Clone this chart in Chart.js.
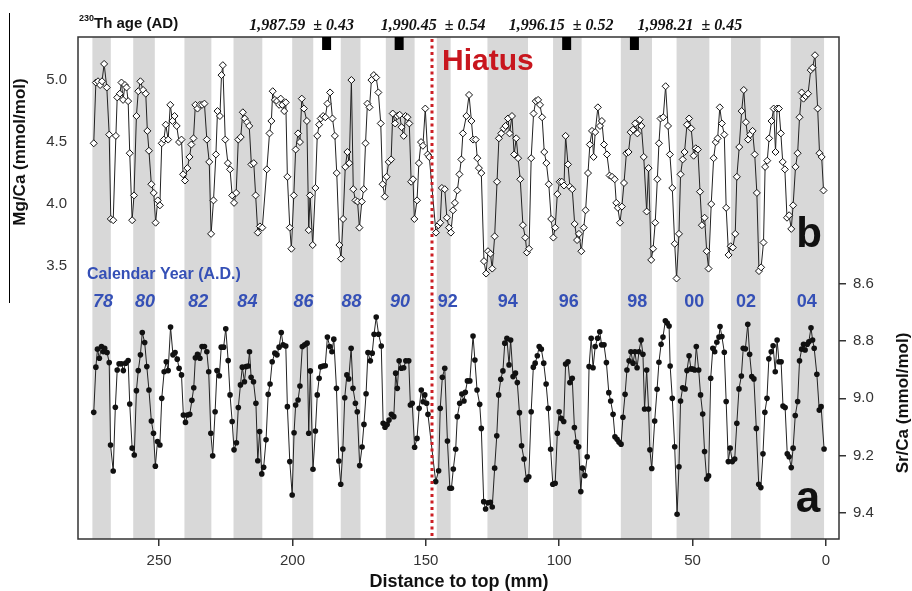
<!DOCTYPE html>
<html>
<head>
<meta charset="utf-8">
<script src="https://cdn.jsdelivr.net/npm/chart.js@4.4.0/dist/chart.umd.min.js"></script>
<style>
  body { margin: 0; background: #fff; }
  canvas { display: block; }
</style>
</head>
<body>
<canvas id="coralChart" width="912" height="591"></canvas>
<script>
// Mg/Ca record (b), depth in mm from top
const mgDepth = [274.5,273.7,272.9,272.1,271.4,270.6,269.6,268.7,268.1,267.2,266.2,265.7,264.7,264.1,263.5,262.8,262.2,261.6,261.0,260.1,
  259.4,258.5,257.8,257.0,256.0,255.0,254.4,253.8,252.9,252.0,251.3,250.5,249.7,249.0,248.2,247.5,246.6,245.8,245.0,244.2,
  243.4,242.5,241.6,241.0,240.3,239.4,238.6,237.9,237.1,236.4,235.6,234.7,233.9,233.0,232.1,231.2,230.5,229.6,228.7,228.1,
  227.2,226.6,226.1,225.2,224.2,223.4,222.6,221.9,221.1,220.3,219.4,218.6,217.9,217.0,216.2,215.4,214.5,213.8,213.0,212.2,
  211.3,209.6,208.6,207.9,207.4,206.6,205.8,205.0,204.4,203.8,203.1,202.5,201.9,201.0,200.4,199.5,198.8,197.9,197.2,196.5,
  195.7,194.6,193.9,193.4,192.4,191.4,190.7,190.0,189.4,188.5,187.7,186.9,185.9,185.0,184.1,183.4,182.4,181.8,181.0,180.2,
  179.4,178.7,177.9,177.2,176.4,175.6,174.9,174.0,173.3,172.6,171.9,171.1,170.4,169.5,168.6,167.8,166.9,166.2,165.4,164.7,
  163.9,163.0,162.4,161.5,160.7,159.8,159.1,158.3,157.6,156.9,156.2,155.5,154.8,154.3,153.3,152.6,151.8,151.1,150.2,149.3,
  148.7,146.2,145.3,144.6,144.0,142.9,142.1,141.3,140.6,139.8,139.1,138.2,137.4,136.7,136.1,134.8,133.8,132.9,132.3,131.3,
  130.7,130.1,129.2,128.2,127.4,126.7,125.8,125.1,124.2,123.3,122.6,121.7,120.8,120.1,119.2,118.6,117.7,116.9,116.1,115.4,
  114.6,113.6,112.7,112.1,111.3,110.5,109.6,108.8,107.9,107.2,106.4,105.6,104.8,103.9,103.0,102.2,101.5,100.7,99.8,99.0,
  98.2,97.6,96.7,96.0,95.1,94.2,93.3,92.6,91.7,90.8,90.1,89.2,88.5,87.7,87.1,86.5,85.5,84.7,84.0,83.2,
  82.1,81.1,80.2,79.2,78.6,78.0,77.2,76.5,75.7,74.8,74.0,73.2,72.3,71.5,70.7,69.8,69.2,68.3,67.2,66.5,
  65.5,64.8,64.0,63.2,62.6,62.0,61.0,60.1,59.2,58.5,57.6,56.7,56.0,55.1,54.5,53.7,53.0,52.1,51.3,50.5,
  49.6,48.8,48.0,47.2,46.5,45.5,44.7,44.0,43.0,42.1,41.3,40.6,39.8,39.0,38.1,37.4,36.5,35.7,34.9,34.0,
  33.4,32.5,31.6,30.8,30.0,29.2,28.4,27.5,26.7,25.9,25.1,24.3,23.4,22.8,22.0,21.3,20.4,19.6,18.9,18.3,
  17.6,16.9,16.2,15.4,14.6,13.8,13.0,12.3,11.4,10.6,9.9,9.1,8.4,7.6,6.7,5.7,5.0,4.1,3.1,2.4,
  1.6,0.9];
const mgValue = [4.49,4.98,4.99,4.96,4.99,5.13,4.94,4.56,3.88,3.87,4.55,4.86,4.89,4.98,4.84,4.96,4.94,4.83,4.41,3.87,
  4.07,4.71,4.91,4.99,4.92,4.89,4.59,4.43,4.16,4.09,3.85,4.03,3.99,4.49,4.52,4.64,4.52,4.80,4.67,4.71,
  4.63,4.50,4.52,4.24,4.19,4.29,4.38,4.48,4.53,4.80,4.77,4.80,4.80,4.81,4.52,4.34,3.76,4.03,4.40,4.75,
  4.71,5.04,5.12,4.52,4.33,4.28,4.07,4.01,4.09,4.52,4.54,4.74,4.69,4.66,4.63,4.32,4.33,4.07,3.77,3.82,
  3.81,4.28,4.57,4.67,4.91,4.84,4.83,4.80,4.85,4.80,4.75,4.82,4.22,3.81,3.64,4.07,4.44,4.57,4.50,4.85,
  4.77,4.67,3.79,4.07,3.67,4.13,4.55,4.64,4.69,4.71,4.70,4.81,4.90,4.69,4.55,4.25,3.67,3.56,3.88,4.30,
  4.42,4.33,5.00,4.12,4.03,4.02,3.81,4.02,4.12,4.49,4.81,4.78,5.00,5.04,5.02,4.90,4.65,4.16,4.06,4.22,
  4.34,4.36,4.73,4.65,4.71,4.72,4.62,4.55,4.71,4.70,4.65,4.18,4.20,3.88,4.03,4.33,4.50,4.47,4.77,4.40,
  4.38,3.77,3.83,3.85,4.13,4.12,3.89,3.81,3.77,3.95,4.01,4.11,4.24,4.36,4.57,4.71,4.88,4.67,4.52,4.52,
  4.37,4.29,4.25,3.54,3.44,3.62,3.60,3.48,3.74,4.18,4.53,4.57,4.61,4.63,4.69,4.57,4.71,4.40,4.53,4.37,
  4.20,3.83,3.73,3.61,3.64,4.37,4.73,4.83,4.84,4.80,4.70,4.42,4.33,4.16,3.88,3.73,3.81,4.08,4.18,4.18,
  4.15,4.55,4.32,4.14,4.12,3.84,3.71,3.76,3.62,3.81,3.95,4.25,4.48,4.59,4.38,4.58,4.78,4.63,4.67,4.48,
  4.40,4.23,4.22,4.20,4.01,3.97,3.85,3.98,4.17,4.41,4.42,4.58,4.60,4.65,4.57,4.68,4.63,4.38,3.94,4.29,
  3.55,3.64,3.85,4.20,4.49,4.69,4.70,4.95,4.63,4.40,4.13,3.68,3.40,3.76,4.24,4.36,4.42,4.64,4.69,4.61,
  4.39,4.45,4.44,4.10,3.83,3.89,3.62,3.48,4.00,4.37,4.50,4.53,4.78,4.65,4.56,3.97,3.59,3.66,3.65,3.76,
  4.22,4.46,4.75,4.92,4.66,4.52,4.56,4.59,4.40,4.09,3.46,3.49,3.69,4.30,4.35,4.53,4.67,4.77,4.42,4.77,
  4.77,4.57,4.34,4.28,3.89,3.91,3.80,3.99,4.30,4.41,4.70,4.90,4.85,4.87,4.89,5.08,5.10,5.20,4.77,4.41,
  4.38,4.11];

// Sr/Ca record (a)
const srDepth = [274.5,273.7,273.1,272.4,271.6,270.9,270.4,269.5,268.7,268.2,267.2,266.4,265.7,265.0,264.1,263.4,262.5,261.6,261.0,260.1,
  259.3,258.5,257.8,257.0,256.3,255.4,254.6,253.8,252.9,252.1,251.4,250.6,249.7,249.0,248.1,247.3,246.6,245.7,244.8,244.0,
  243.2,242.5,241.6,240.9,240.1,239.4,238.5,237.7,237.0,236.4,235.6,234.7,233.9,233.0,232.1,231.4,230.6,229.9,229.0,228.3,
  227.4,226.7,225.8,225.0,224.1,223.4,222.6,221.9,221.0,220.3,219.5,218.8,218.0,217.4,216.6,216.1,215.5,214.6,213.7,213.0,
  212.3,211.5,210.8,209.9,209.1,208.4,207.6,206.6,205.8,205.0,204.2,203.5,202.5,201.9,201.0,200.1,199.4,198.8,197.9,197.2,
  196.3,195.4,194.5,193.9,193.3,192.3,191.4,190.7,190.0,189.4,188.5,187.7,186.9,186.0,185.2,184.5,183.5,182.6,181.9,181.1,
  180.4,179.6,178.9,178.0,177.3,176.4,175.7,174.8,173.9,173.2,172.4,171.7,170.8,170.1,169.4,168.6,167.7,166.7,166.0,165.3,
  164.5,163.8,162.9,162.0,161.3,160.7,160.0,159.2,158.3,157.5,156.4,155.8,155.1,154.2,153.3,152.5,151.7,151.0,150.4,149.7,
  149.2,146.3,145.2,144.6,143.8,142.9,141.9,141.0,140.4,139.7,138.8,138.2,137.3,136.5,135.7,135.2,134.4,133.5,132.3,131.6,
  130.8,129.8,129.2,128.3,127.6,126.7,125.8,125.1,124.2,123.4,122.7,121.9,121.1,120.4,119.6,118.8,118.2,117.3,116.4,115.7,
  114.9,114.1,113.2,112.3,111.4,110.5,109.7,109.0,108.2,107.5,106.7,105.8,104.9,104.1,103.2,102.4,101.5,100.7,100.0,99.2,
  98.3,97.6,96.7,96.0,95.1,94.3,93.6,92.7,91.9,91.3,90.4,89.5,88.8,88.0,87.3,86.5,85.6,84.8,84.1,83.2,
  82.3,81.4,80.7,79.8,79.1,78.3,77.6,76.8,76.1,75.3,74.6,73.8,73.1,72.3,71.6,70.8,70.1,69.3,68.6,68.0,
  67.2,66.5,66.0,65.3,64.2,63.3,62.6,61.8,61.1,60.2,59.5,58.8,58.4,57.6,56.7,55.8,55.1,54.5,53.7,52.8,
  52.1,51.3,50.6,49.9,49.2,48.6,47.7,47.0,46.2,45.5,44.7,44.0,43.2,42.4,41.7,40.9,40.1,39.7,39.0,38.1,
  37.4,36.6,35.9,35.1,34.2,33.4,32.6,31.7,31.0,30.2,29.3,28.6,27.8,27.0,26.1,25.2,24.4,23.6,22.9,22.1,
  21.4,20.5,19.8,19.0,18.3,17.6,16.8,16.1,15.3,14.5,13.8,13.0,12.3,11.5,10.6,9.9,9.1,8.4,7.8,7.0,
  6.4,5.6,5.0,4.4,3.4,2.5,1.8,0.7];
const srValue = [9.049,8.891,8.828,8.860,8.819,8.837,8.825,8.840,8.875,9.163,9.254,9.031,8.901,8.879,8.879,8.903,8.877,8.868,9.020,9.174,
  9.198,8.973,8.903,8.848,8.770,8.805,8.889,8.971,9.079,9.122,9.237,9.151,9.163,9.000,8.907,8.872,8.903,8.751,8.848,8.840,
  8.863,8.895,8.918,9.058,9.084,9.058,9.056,9.007,8.963,8.858,8.846,8.860,8.819,8.819,8.837,8.907,9.122,9.201,9.047,8.903,
  8.921,8.821,8.821,8.757,8.868,8.988,9.081,9.180,9.155,9.032,8.953,8.891,8.942,8.889,8.887,8.837,8.926,8.942,9.017,9.218,
  9.116,9.264,9.241,9.145,8.986,8.950,8.872,8.842,8.848,8.821,8.770,8.813,8.817,9.029,9.221,9.338,9.120,9.023,9.006,8.957,
  8.819,8.813,8.807,9.122,8.904,9.248,9.114,8.988,8.930,8.890,8.887,8.886,8.786,8.819,8.837,8.793,8.965,9.219,9.300,9.177,
  8.998,8.918,8.932,8.825,8.965,9.017,9.047,9.235,9.170,9.091,8.984,8.840,8.869,8.842,8.776,8.716,8.776,8.817,9.087,9.101,
  9.091,9.076,9.056,9.064,8.912,8.965,8.869,8.895,8.893,8.869,8.869,9.023,9.017,9.171,9.140,9.035,8.971,9.012,8.988,9.017,
  9.056,9.291,9.253,9.035,8.926,8.895,9.149,9.314,9.314,9.247,9.178,9.064,9.017,8.985,9.009,8.979,8.939,8.939,8.782,8.866,
  8.971,9.021,9.105,9.361,9.387,9.365,9.363,9.380,9.244,9.131,8.988,8.933,8.904,8.807,8.790,8.883,8.796,8.924,8.912,8.945,
  9.050,9.166,9.212,9.285,9.274,9.047,8.891,8.877,8.851,8.819,8.828,8.877,8.950,9.035,9.178,9.300,9.297,9.122,9.047,9.070,
  9.081,8.880,8.872,8.945,8.930,9.102,9.153,9.169,9.326,9.244,9.270,9.204,8.889,8.790,8.893,8.819,8.790,8.767,8.813,8.813,
  8.875,8.980,9.009,9.056,9.134,9.143,9.153,9.160,9.066,8.986,8.901,8.869,8.837,8.877,8.837,8.893,8.837,8.796,8.846,9.037,
  8.901,9.037,9.180,9.245,9.079,8.968,8.874,8.811,8.786,8.729,8.737,8.747,8.887,9.000,9.169,9.405,9.239,9.009,8.963,8.967,
  8.903,8.851,8.897,8.898,8.901,8.819,8.901,8.988,9.055,9.186,9.282,9.271,8.930,8.825,8.837,8.804,8.786,8.749,8.784,8.839,
  9.011,9.221,9.174,9.221,9.212,9.087,8.967,8.922,8.825,8.827,8.741,8.846,8.924,8.932,9.105,9.300,9.312,9.194,9.049,9.000,
  8.862,8.837,8.816,8.907,8.796,8.872,8.872,9.027,9.032,9.194,9.204,9.242,9.174,9.060,9.011,8.869,8.828,8.811,8.831,8.811,
  8.802,8.753,8.796,8.825,8.916,9.041,9.029,9.177];

// shaded years (mm)
const bandStart = [275.0,259.7,240.5,222.1,200.1,181.9,165.0,145.9,126.9,102.3,76.9,56.0,35.6,13.2];
const bandEnd   = [268.1,251.6,230.4,211.3,192.2,174.5,154.2,140.7,111.7,91.6,65.2,43.7,24.5,0.7];

const yearLabels = ['78','80','82','84','86','88','90','92','94','96','98','00','02','04'];
const yearDepth  = [271.0,255.3,235.3,216.9,195.9,177.9,159.7,141.8,119.3,96.4,70.7,49.4,30.0,7.2];

// U-Th dated samples
const dateLabels = ['1,987.59  \u00b1 0.43','1,990.45  \u00b1 0.54','1,996.15  \u00b1 0.52','1,998.21  \u00b1 0.45'];
const dateDepth  = [187.2,160.0,97.2,71.8];
const dateTextAt = [196.6,147.3,99.3,51.0];

const hiatusDepth = 147.7;

const xTicks  = [0,50,100,150,200,250];
const mgTicks = [3.5,4.0,4.5,5.0];
const srTicks = [8.6,8.8,9.0,9.2,9.4];

const blue = '#3550b6';

const overlay = {
  id: 'overlay',
  beforeDatasetsDraw(chart) {
    const { ctx, chartArea: a, scales: { x } } = chart;
    ctx.save();
    ctx.fillStyle = '#d8d8d8';
    bandStart.forEach((s, i) => {
      const x1 = x.getPixelForValue(s), x2 = x.getPixelForValue(bandEnd[i]);
      ctx.fillRect(Math.min(x1, x2), a.top, Math.abs(x2 - x1), a.bottom - a.top);
    });
    // year labels
    ctx.fillStyle = blue;
    ctx.textAlign = 'center';
    ctx.textBaseline = 'middle';
    yearLabels.forEach((t, i) => {
      ctx.font = (i < 7 ? 'italic ' : '') + 'bold 18px "Liberation Sans", Arial, sans-serif';
      ctx.fillText(t, x.getPixelForValue(yearDepth[i]), 302);
    });
    ctx.textAlign = 'left';
    ctx.font = 'bold 16px "Liberation Sans", Arial, sans-serif';
    ctx.fillText('Calendar Year (A.D.)', 87, 275);
    ctx.restore();
  },
  afterDatasetsDraw(chart) {
    const { ctx, chartArea: a, scales: { x } } = chart;
    ctx.save();
    // hiatus
    const hx = Math.round(x.getPixelForValue(hiatusDepth));
    ctx.strokeStyle = '#cc1f24';
    ctx.lineWidth = 3;
    ctx.setLineDash([3, 3.5]);
    ctx.beginPath();
    ctx.moveTo(hx, a.top + 2);
    ctx.lineTo(hx, a.bottom);
    ctx.stroke();
    ctx.setLineDash([]);
    ctx.fillStyle = '#c8161e';
    ctx.font = 'bold 30px "Liberation Sans", Arial, sans-serif';
    ctx.textAlign = 'left';
    ctx.textBaseline = 'alphabetic';
    ctx.fillText('Hiatus', 442, 70);

    // frame
    ctx.strokeStyle = '#333';
    ctx.lineWidth = 1.5;
    ctx.strokeRect(a.left, a.top, a.right - a.left, a.bottom - a.top);

    // dated sample markers
    ctx.fillStyle = '#000';
    dateDepth.forEach(d => {
      const px = x.getPixelForValue(d);
      ctx.fillRect(px - 4.5, a.top, 9, 13);
    });

    // top labels
    ctx.fillStyle = '#111';
    ctx.font = 'bold 9px "Liberation Sans", Arial, sans-serif';
    ctx.fillText('230', 79, 21);
    const w = ctx.measureText('230').width;
    ctx.font = 'bold 15px "Liberation Sans", Arial, sans-serif';
    ctx.fillText('Th age (AD)', 79 + w, 28);
    ctx.font = 'italic bold 16px "Liberation Serif", "Times New Roman", serif';
    ctx.textAlign = 'center';
    dateLabels.forEach((t, i) => ctx.fillText(t, x.getPixelForValue(dateTextAt[i]), 30));

    // panel letters
    ctx.font = 'bold 42px "Liberation Sans", Arial, sans-serif';
    ctx.fillText('b', 809, 247);
    ctx.font = 'bold 44px "Liberation Sans", Arial, sans-serif';
    ctx.fillText('a', 808, 512);

    // axis titles
    ctx.font = 'bold 17px "Liberation Sans", Arial, sans-serif';
    ctx.textBaseline = 'middle';
    ctx.save();
    ctx.translate(20, 152);
    ctx.rotate(-Math.PI / 2);
    ctx.fillText('Mg/Ca (mmol/mol)', 0, 0);
    ctx.restore();
    ctx.save();
    ctx.translate(903, 403);
    ctx.rotate(-Math.PI / 2);
    ctx.fillText('Sr/Ca (mmol/mol)', 0, 0);
    ctx.restore();
    ctx.font = 'bold 18px "Liberation Sans", Arial, sans-serif';
    ctx.fillText('Distance to top (mm)', 459, 582);

    // separator line at the far left
    ctx.strokeStyle = '#000';
    ctx.lineWidth = 1;
    ctx.beginPath();
    ctx.moveTo(9.5, 13);
    ctx.lineTo(9.5, 303);
    ctx.stroke();
    ctx.restore();
  }
};

const tickFont = { family: '"Liberation Sans", Arial, sans-serif', size: 15 };

new Chart(document.getElementById('coralChart').getContext('2d'), {
  type: 'line',
  data: {
    datasets: [{
      label: 'Mg/Ca',
      data: mgDepth.map((d, i) => ({ x: d, y: mgValue[i] })),
      yAxisID: 'y',
      borderColor: '#222',
      borderWidth: 1,
      pointStyle: 'rectRot',
      pointRadius: 3.5,
      pointBackgroundColor: '#fff',
      pointBorderColor: '#111',
      pointBorderWidth: 1,
      tension: 0
    }, {
      label: 'Sr/Ca',
      data: srDepth.map((d, i) => ({ x: d, y: srValue[i] })),
      yAxisID: 'y2',
      borderColor: '#222',
      borderWidth: 1,
      pointStyle: 'circle',
      pointRadius: 2.8,
      pointBackgroundColor: '#111',
      pointBorderColor: '#111',
      pointBorderWidth: 0,
      tension: 0
    }]
  },
  options: {
    responsive: false,
    animation: false,
    layout: { padding: { top: 37, left: 0, right: 0, bottom: 0 } },
    plugins: { legend: { display: false }, tooltip: { enabled: false } },
    scales: {
      x: {
        type: 'linear',
        reverse: true,
        min: -4.9,
        max: 280.4,
        afterBuildTicks: s => { s.ticks = xTicks.map(v => ({ value: v })); },
        afterFit: s => { s.height = 52; },
        border: { display: false },
        grid: { drawOnChartArea: false, drawTicks: true, tickLength: 7, color: '#333', lineWidth: 1.5 },
        ticks: { font: tickFont, color: '#333', padding: 6, maxRotation: 0 }
      },
      y: {
        position: 'left',
        min: 1.30,
        max: 5.347,
        afterBuildTicks: s => { s.ticks = mgTicks.map(v => ({ value: v })); },
        afterFit: s => { s.width = 78; },
        border: { display: false },
        grid: { display: false, drawTicks: false },
        ticks: { font: tickFont, color: '#333', padding: 11, callback: v => v.toFixed(1) }
      },
      y2: {
        position: 'right',
        reverse: true,
        min: 7.737,
        max: 9.4916,
        afterBuildTicks: s => { s.ticks = srTicks.map(v => ({ value: v })); },
        afterFit: s => { s.width = 73; },
        border: { display: false },
        grid: { drawOnChartArea: false, drawTicks: true, tickLength: 7, color: '#333', lineWidth: 1.5 },
        ticks: { font: tickFont, color: '#333', padding: 7, callback: v => v.toFixed(1) }
      }
    }
  },
  plugins: [overlay]
});
</script>
</body>
</html>
